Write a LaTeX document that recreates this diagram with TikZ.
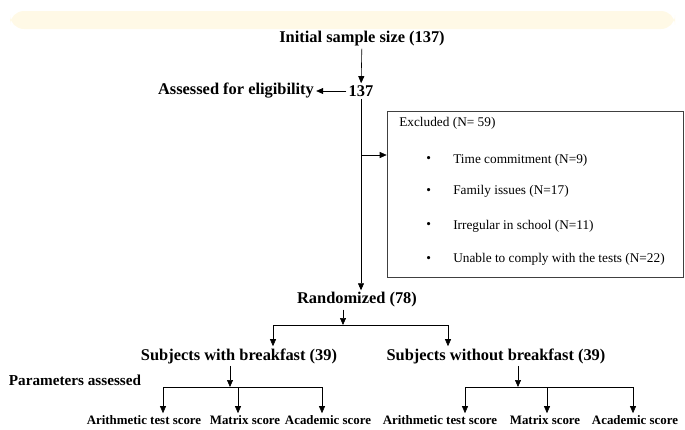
\documentclass[tikz,border=0pt]{standalone}
\usepackage{fontspec}
\setmainfont{Liberation Serif}
\usetikzlibrary{arrows.meta}
\definecolor{bandyellow}{RGB}{255,249,230}
\tikzset{
  lbl/.style={font=\bfseries\fontsize{16.4}{18}\selectfont,inner sep=2pt},
  sublbl/.style={font=\bfseries\fontsize{12.9}{14}\selectfont,inner sep=2pt},
  boxtxt/.style={font=\fontsize{13.3}{15}\selectfont,anchor=west,inner sep=0pt},
  exbox/.style={draw=black!75,line width=0.6pt,minimum width=296pt,minimum height=166pt,inner sep=0pt}
}

\begin{document}
\begin{tikzpicture}[x=1pt,y=-1pt,->,>={Triangle[length=7pt,width=6pt]},line width=0.6pt]
   \useasboundingbox (0,0) rectangle (685,429);
   \fill[bandyellow,rounded corners=14pt] (10,29) -- (10,11) -- (675,11) -- (675,29) -- cycle;
   % flow
   \node[lbl] (init) at (362,39) {Initial sample size (137)};
   \node[lbl] (n137) at (361,91) {137};
   \node[lbl] (elig) at (236,91) {Assessed for eligibility};
   \node[lbl] (rand) at (357,300) {Randomized (78)};
   \draw (init) -- (n137);
   \draw (n137) -- (elig);
   \draw (n137) -- (n137 |- rand.north);
   % excluded
   \node[exbox] (box) at (535,194) {};
   \coordinate (j1) at (362,155);
   \draw (j1) -- (j1 -| box.west);
   \node[boxtxt] (exc) at (399,123) {Excluded (N= 59)};
   \node[boxtxt] (b1) at (426,160) {\textbullet};
   \node[boxtxt] (b2) at (426,191) {\textbullet};
   \node[boxtxt] (b3) at (426,226) {\textbullet};
   \node[boxtxt] (b4) at (426,259) {\textbullet};
   \node[boxtxt] (e1) at (453,160) {Time commitment (N=9)};
   \node[boxtxt] (e2) at (453,191) {Family issues (N=17)};
   \node[boxtxt] (e3) at (453,226) {Irregular in school (N=11)};
   \node[boxtxt] (e4) at (453,259) {Unable to comply with the tests (N=22)};
   % groups
   \node[lbl] (withb) at (239,356) {Subjects with breakfast (39)};
   \node[lbl] (wob) at (496,356) {Subjects without breakfast (39)};
   \node[lbl,font=\bfseries\fontsize{15.2}{17}\selectfont] (param) at (75,380) {Parameters assessed};
   \coordinate (sp) at (343,325);
   \coordinate (spl) at (273,325);
   \coordinate (spr) at (448,325);
   \draw (sp |- rand.south) -- (sp);
   \draw[-] (spl) -- (spr);
   \draw (spl) -- (spl |- withb.north);
   \draw (spr) -- (spr |- wob.north);
   % scores, with breakfast
   \node[sublbl] (ar1) at (144,420) {Arithmetic test score};
   \node[sublbl] (mt1) at (245,420) {Matrix score};
   \node[sublbl] (ac1) at (328,420) {Academic score};
   \coordinate (lb) at (230,387);
   \coordinate (lb1) at (163,387);
   \coordinate (lb2) at (238,387);
   \coordinate (lb3) at (322,387);
   \draw (lb |- withb.south) -- (lb);
   \draw[-] (lb1) -- (lb3);
   \draw (lb1) -- (lb1 |- ar1.north);
   \draw (lb2) -- (lb2 |- mt1.north);
   \draw (lb3) -- (lb3 |- ac1.north);
   % scores, without breakfast
   \node[sublbl] (ar2) at (440,420) {Arithmetic test score};
   \node[sublbl] (mt2) at (545,420) {Matrix score};
   \node[sublbl] (ac2) at (635,420) {Academic score};
   \coordinate (rb) at (518,387);
   \coordinate (rb1) at (465,387);
   \coordinate (rb2) at (547,387);
   \coordinate (rb3) at (633,387);
   \draw (rb |- wob.south) -- (rb);
   \draw[-] (rb1) -- (rb3);
   \draw (rb1) -- (rb1 |- ar2.north);
   \draw (rb2) -- (rb2 |- mt2.north);
   \draw (rb3) -- (rb3 |- ac2.north);
\end{tikzpicture}
\end{document}
